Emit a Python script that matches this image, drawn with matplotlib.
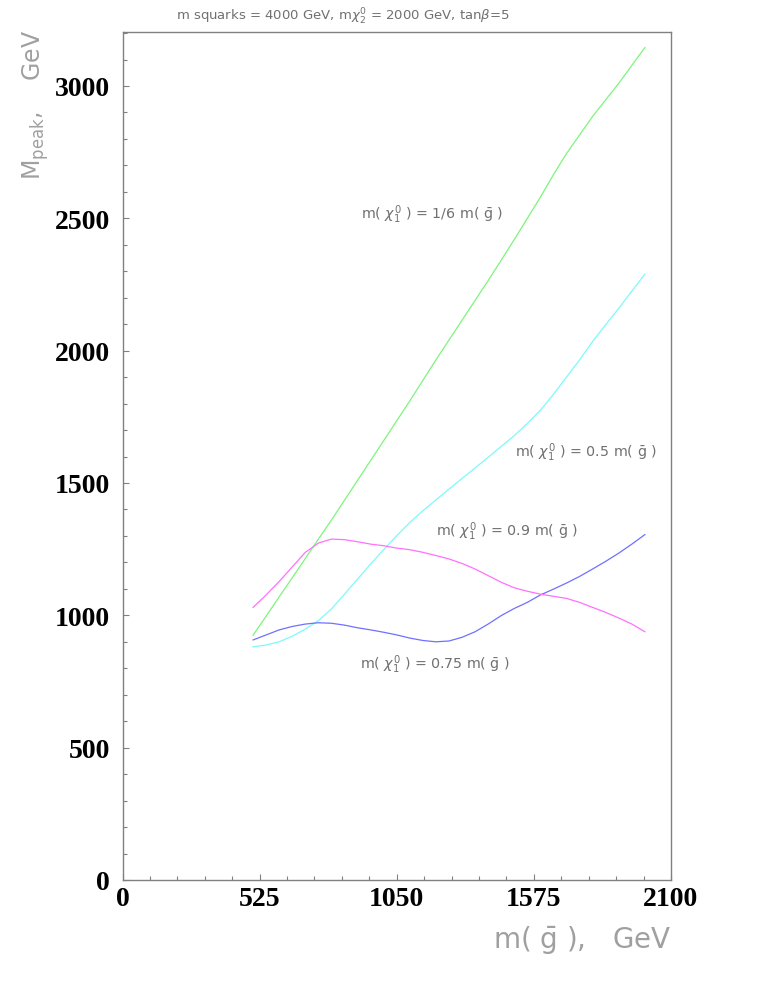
import matplotlib
matplotlib.use("Agg")
import matplotlib.pyplot as plt
from matplotlib.ticker import MultipleLocator

plt.rcParams['mathtext.fontset'] = 'dejavusans'

# ---- data ----
m_gluino = [500, 550, 600, 650, 700, 750, 800, 850, 900, 950, 1000, 1050, 1100, 1150,
            1200, 1250, 1300, 1350, 1400, 1450, 1500, 1550, 1600, 1650, 1700, 1750,
            1800, 1850, 1900, 1950, 2000]
peak_1_6 = [925, 997, 1070, 1142, 1215, 1288, 1360, 1435, 1510, 1585, 1660, 1735, 1810, 1888,
            1965, 2040, 2115, 2190, 2265, 2342, 2420, 2500, 2580, 2665, 2745, 2815,
            2885, 2948, 3010, 3078, 3145]
peak_0_5 = [881, 888, 900, 921, 948, 980, 1024, 1080, 1137, 1194, 1248, 1301, 1351, 1395,
            1436, 1477, 1517, 1557, 1597, 1638, 1679, 1725, 1775, 1835, 1900, 1965,
            2035, 2098, 2160, 2225, 2289]
peak_0_75 = [907, 926, 945, 958, 967, 972, 970, 963, 953, 945, 936, 926, 914, 905,
             900, 903, 917, 938, 967, 999, 1026, 1049, 1077, 1099, 1122, 1147,
             1175, 1204, 1235, 1269, 1305]
peak_0_9 = [1030, 1077, 1128, 1183, 1238, 1273, 1288, 1286, 1278, 1269, 1263, 1254, 1248, 1238,
            1226, 1213, 1196, 1175, 1150, 1125, 1104, 1091, 1080, 1072, 1064, 1049,
            1030, 1011, 990, 967, 938]

x_ticks = [0, 525, 1050, 1575, 2100]
y_ticks = [0, 500, 1000, 1500, 2000, 2500, 3000]

labels = {
    '1/6': (1185, 2516, r'm( $\chi^0_1$ ) = 1/6 m( $\bar{\mathrm{g}}$ )'),
    '0.5': (1775, 1617, r'm( $\chi^0_1$ ) = 0.5 m( $\bar{\mathrm{g}}$ )'),
    '0.9': (1473, 1318, r'm( $\chi^0_1$ ) = 0.9 m( $\bar{\mathrm{g}}$ )'),
    '0.75': (1195, 816, r'm( $\chi^0_1$ ) = 0.75 m( $\bar{\mathrm{g}}$ )'),
}

W, H = 763, 987
fig = plt.figure(figsize=(W / 100, H / 100), dpi=100)
ax = fig.add_axes([122.5 / W, 1 - 881 / H, (671 - 122.5) / W, (881 - 33) / H])

lw = 0.9
ax.plot(m_gluino, peak_1_6, color='#7cf57c', lw=lw)
ax.plot(m_gluino, peak_0_5, color='#7cfafa', lw=lw)
ax.plot(m_gluino, peak_0_75, color='#7070ff', lw=lw)
ax.plot(m_gluino, peak_0_9, color='#ff70ff', lw=lw)

ax.set_xlim(0, 2100)
ax.set_ylim(0, 3204)
ax.set_xticks(x_ticks)
ax.set_yticks(y_ticks)
ax.xaxis.set_minor_locator(MultipleLocator(105))
ax.yaxis.set_minor_locator(MultipleLocator(100))

tick_font = dict(family='Liberation Serif', weight='bold', size=20)
ax.set_xticklabels([str(t) for t in x_ticks], fontdict=tick_font)
ax.set_yticklabels([str(t) for t in y_ticks], fontdict=tick_font)
ax.tick_params(which='both', direction='in', color='#808080', width=0.8)
ax.tick_params(which='major', length=4)
ax.tick_params(which='minor', length=3)
ax.tick_params(axis='y', which='major', pad=9)
ax.tick_params(axis='x', which='major', pad=4)

for s in ax.spines.values():
    s.set_color('#808080')
    s.set_linewidth(1.0)

for key, (x, y, txt) in labels.items():
    ax.text(x, y, txt, ha='center', va='center', fontsize=10.3, color='#707070')

fig.text(343 / W, 1 - 17 / H,
         r'm squarks = 4000 GeV, m$\chi^0_2$ = 2000 GeV, tan$\beta$=5',
         ha='center', va='center', fontsize=9.5, color='#707070')

fig.text(36 / W, 1 - 105 / H, r'M$_{\mathrm{peak}}$,    GeV', rotation=90,
         ha='center', va='center', fontsize=17, color='#a0a0a0')

fig.text(672 / W, 1 - 940 / H, r'm( $\bar{\mathrm{g}}$ ),   GeV',
         ha='right', va='center', fontsize=20, color='#a0a0a0')

fig.savefig('out.png', dpi=100)
